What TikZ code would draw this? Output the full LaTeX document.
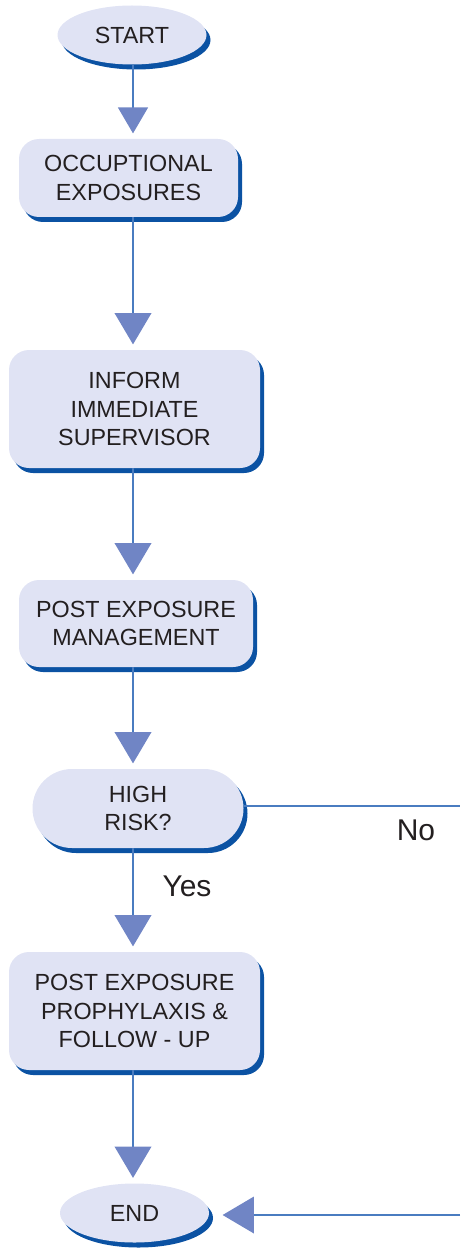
\documentclass[tikz,border=0pt]{standalone}
\usepackage{fontspec}
\setmainfont{Liberation Sans}
\usetikzlibrary{arrows.meta,shapes.geometric,shapes.misc,shadows}

\definecolor{boxfill}{HTML}{E0E3F4}
\definecolor{shadowblue}{HTML}{0B52A3}
\definecolor{lineblue}{HTML}{4A7CC0}
\definecolor{headblue}{HTML}{7085C5}
\definecolor{textgray}{HTML}{231F20}

\begin{document}
\begin{tikzpicture}[x=0.75pt,y=-0.75pt,
  every node/.style={text=textgray,font=\fontsize{17.5}{21.5}\selectfont},
  shade box/.style={fill=boxfill,align=center,inner sep=0pt,
    general shadow={shadow xshift=3pt,shadow yshift=-3.75pt,fill=shadowblue}},
  stepbox/.style={shade box,rectangle,rounded corners=15pt},
  oval/.style={shade box,ellipse,minimum width=111.75pt,minimum height=44.25pt},
  decision/.style={shade box,rounded rectangle},
  flow/.style={draw=lineblue,line width=1.1pt,shorten >=4pt,
    -{Triangle[width=27.5pt,length=23.5pt,color=headblue]}},
  flow small/.style={flow,-{Triangle[width=22.5pt,length=19.5pt,color=headblue]}},
  link/.style={draw=lineblue,line width=1.1pt},
  answer/.style={font=\fontsize{22.5}{26}\selectfont}]
\useasboundingbox (0,0) rectangle (460,1248);

% Terminals
\node[oval] (start) at (132,35) {START};
\node[oval] (end) at (134.5,1213) {END};

% Steps
\node[stepbox,minimum width=164.25pt,minimum height=58.5pt] (occ) at (128.5,178)
  {OCCUPTIONAL\\EXPOSURES};
\node[stepbox,minimum width=188.25pt,minimum height=88.5pt] (inform) at (134.5,409)
  {INFORM\\IMMEDIATE\\SUPERVISOR};
\node[stepbox,minimum width=175.5pt,minimum height=65.25pt] (manage) at (136,623.5)
  {POST EXPOSURE\\MANAGEMENT};
\node[decision,minimum width=158.25pt,minimum height=59.25pt] (risk) at (138,808.5)
  {HIGH\\RISK?};
\node[stepbox,minimum width=188.25pt,minimum height=88.5pt] (pep) at (134.5,1011)
  {POST EXPOSURE\\PROPHYLAXIS \&\\FOLLOW - UP};

% Answers
\node[answer] (yes) at (187,886) {Yes};
\node[answer] (no) at (416,830) {No};

% Links
\coordinate (axis) at (133,0);
\coordinate (noend) at (460,806);
\coordinate (endin) at (460,1215);
\draw[flow small] (start.south -| axis) -- (occ.north -| axis);
\draw[flow] (occ.south -| axis) -- (inform.north -| axis);
\draw[flow] (inform.south -| axis) -- (manage.north -| axis);
\draw[flow] (manage.south -| axis) -- (risk.north -| axis);
\draw[flow] (risk.south -| axis) -- (pep.north -| axis);
\draw[flow] (pep.south -| axis) -- (end.north -| axis);
\draw[link] (risk.east |- noend) -- (noend);
\draw[flow,shorten >=10pt] (endin) -- (endin -| end.east);

\end{tikzpicture}
\end{document}
